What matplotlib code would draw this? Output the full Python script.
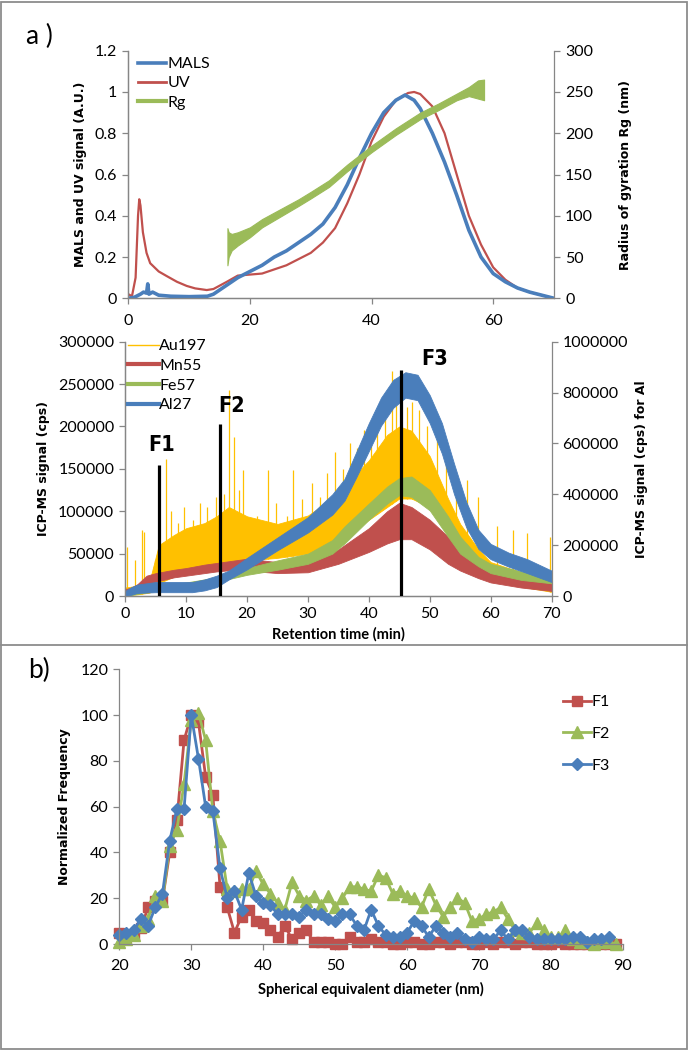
import numpy as np
import matplotlib
matplotlib.use("Agg")
import matplotlib.pyplot as plt
from matplotlib.lines import Line2D
from matplotlib.patches import Rectangle
from matplotlib.ticker import FuncFormatter

plt.rcParams["font.family"] = ["Lato", "DejaVu Sans"]

BLUE = "#4a7ebb"
RED = "#c0504d"
GREEN = "#9bbb59"
GOLD = "#ffc000"
GRAY = "#868686"

# ---- panel a, top: MALS / UV (left axis), Rg (right axis) ----
mals_t = [0, 1, 2, 2.5, 3, 3.2, 3.4, 4, 5, 7, 10, 13, 14, 15, 16, 17, 18, 20, 22, 24, 26, 28,
          30, 32, 34, 36, 38, 40, 42, 44, 45.5, 47, 48, 50, 52, 54, 56, 58, 60, 62, 64, 66, 68, 70]
mals_v = [0, 0.005, 0.02, 0.03, 0.025, 0.07, 0.02, 0.03, 0.015, 0.01, 0.008, 0.01, 0.02, 0.04,
          0.06, 0.08, 0.1, 0.13, 0.16, 0.2, 0.23, 0.27, 0.31, 0.36, 0.44, 0.55, 0.68, 0.8, 0.9,
          0.96, 0.985, 0.96, 0.92, 0.8, 0.66, 0.5, 0.33, 0.2, 0.12, 0.08, 0.05, 0.03, 0.015, 0.0]

uv_t = [0, 0.6, 1.2, 1.6, 1.8, 2.0, 2.4, 3, 3.6, 5, 6.3, 8, 9.6, 11, 12.9, 14, 16.2, 18, 20, 22,
        24, 26, 28, 30, 32, 34, 36, 38, 40, 42, 44, 46, 47, 48, 50, 52, 54, 56, 58, 60, 62, 64,
        66, 68, 70]
uv_v = [0.02, 0.01, 0.1, 0.4, 0.48, 0.45, 0.32, 0.22, 0.17, 0.13, 0.108, 0.08, 0.06, 0.048,
        0.04, 0.045, 0.08, 0.11, 0.115, 0.12, 0.14, 0.16, 0.19, 0.22, 0.27, 0.34, 0.46, 0.6,
        0.76, 0.88, 0.96, 0.995, 1.0, 0.99, 0.93, 0.8, 0.6, 0.4, 0.26, 0.15, 0.09, 0.05, 0.03,
        0.015, 0.0]

rg_t = [16.3, 16.5, 17, 18, 20, 22, 25, 28, 30, 33, 36, 40, 44, 48, 51, 54, 56, 57.5, 58.5]
rg_lo = [40, 50, 58, 64, 74, 86, 99, 112, 121, 135, 154, 177, 198, 217, 228, 240, 245, 242, 240]
rg_hi = [85, 80, 78, 80, 86, 96, 108, 120, 129, 143, 162, 185, 206, 225, 236, 248, 256, 264, 265]

# ---- panel a, bottom: ICP-MS signals (noise bands: low / high edge) ----
au_t = [0, 2, 4, 5.5, 8, 10, 13, 15, 17, 20, 25, 30, 33, 36, 40, 43, 45, 47, 50, 53, 55, 58, 60, 65, 70]
au_lo = [1000, 2000, 4000, 15000, 23000, 27000, 31000, 35000, 38000, 42000, 45000, 50000, 55000,
         70000, 90000, 105000, 115000, 115000, 105000, 75000, 50000, 30000, 18000, 11000, 5000]
au_hi = [10000, 12000, 18000, 60000, 72000, 80000, 86000, 94000, 105000, 94000, 85000, 95000,
         110000, 130000, 160000, 190000, 200000, 195000, 165000, 115000, 85000, 55000, 40000,
         28000, 20000]
spike_t = [0.2, 1.6, 2.7, 3.0, 4.9, 6.7, 7.5, 8.7, 9.6, 11.2, 12.3, 13.4, 14.9, 16.2, 17.1, 17.8,
           18.6, 19.3, 21.6, 23.5, 24.8, 26.5, 27.5, 29.0, 30.6, 32.0, 33.1, 34.5, 35.8, 36.9,
           38.0, 39.2, 40.4, 41.3, 42.7, 43.8, 44.4, 46.3, 47.1, 48.2, 49.6, 51.2, 52.6, 54.3,
           56.1, 58.0, 61.1, 63.6, 66.0, 69.8]
spike_v = [58000, 42000, 78000, 76000, 42000, 162000, 100000, 86000, 105000, 90000, 110000,
           105000, 117000, 120000, 243000, 188000, 125000, 149000, 94000, 149000, 110000, 94000,
           149000, 115000, 133000, 117000, 145000, 170000, 150000, 180000, 175000, 196000,
           190000, 215000, 235000, 266000, 235000, 223000, 229000, 219000, 200000, 192000,
           160000, 130000, 137000, 117000, 82000, 78000, 74000, 70000]

mn_t = [0, 1, 2, 3.5, 5, 8, 10, 13, 15, 18, 20, 25, 30, 35, 40, 43, 45, 47, 50, 53, 55, 58, 60, 65, 70]
mn_lo = [2000, 3000, 6000, 14000, 17000, 22000, 24000, 27000, 29000, 31000, 30000, 27000, 28000,
         38000, 52000, 62000, 67000, 67000, 55000, 38000, 30000, 21000, 16000, 10000, 6000]
mn_hi = [8000, 10000, 14000, 24000, 27000, 31000, 33000, 37000, 39000, 42000, 44000, 40000, 42000,
         55000, 80000, 100000, 110000, 105000, 90000, 70000, 55000, 38000, 30000, 20000, 15000]

fe_t = [0, 5, 10, 15, 17, 20, 25, 30, 34, 36, 40, 43, 45, 47, 50, 53, 55, 58, 60, 65, 70]
fe_lo = [0, 6000, 10000, 15000, 20000, 25000, 31000, 38000, 50000, 62000, 90000, 109000, 119000,
         117000, 101000, 70000, 50000, 35000, 27000, 19000, 15000]
fe_hi = [5000, 12000, 16000, 22000, 27000, 33000, 42000, 50000, 66000, 82000, 109000, 129000,
         139000, 141000, 125000, 94000, 70000, 46000, 38000, 29000, 23000]

al_t = [0, 1, 2, 5, 8, 11, 13, 15, 17, 20, 25, 30, 34, 36, 38, 40, 42, 44, 46, 48, 50, 52, 54,
        56, 58, 60, 63, 66, 70]
al_lo = [0, 5000, 12000, 15000, 15000, 15000, 22000, 35000, 65000, 105000, 180000, 250000, 320000,
         375000, 470000, 570000, 670000, 740000, 780000, 770000, 680000, 560000, 400000, 270000,
         185000, 145000, 115000, 90000, 55000]
al_hi = [20000, 35000, 45000, 55000, 55000, 55000, 65000, 80000, 100000, 150000, 230000, 310000,
         400000, 460000, 570000, 680000, 780000, 850000, 880000, 870000, 790000, 680000, 520000,
         370000, 260000, 205000, 170000, 145000, 100000]

frac_names = ["F1", "F2", "F3"]
frac_t = [5.5, 15.5, 45.2]
frac_top = [155000, 202500, 266500]
frac_lab_t = [6.0, 17.5, 50.8]
frac_lab_v = [178000, 224000, 280000]

# ---- panel b: size distributions ----
f1_d = list(range(20, 90))
f1_v = [5, 3, 4, 7, 16, 19, 19, 40, 54, 89, 100, 97, 73, 65, 25, 16, 5, 12, 15, 10, 9, 6, 3, 8, 2,
        5, 6, 1, 1, 1, 0, 0, 3, 1, 1, 2, 1, 1, 0, 0, 1, 1, 0, 0, 1, 1, 0, 1, 1, 0, 0, 1, 0, 1, 1,
        0, 1, 1, 0, 0, 0, 1, 0, 0, 0, 0, 0, 0, 0, 0]
f2_d = list(range(20, 90))
f2_v = [1, 2, 4, 8, 11, 21, 19, 43, 50, 70, 98, 101, 89, 58, 45, 24, 23, 24, 24, 32, 26, 22, 18,
        15, 27, 21, 19, 21, 17, 21, 16, 20, 25, 25, 24, 23, 30, 29, 22, 23, 21, 20, 16, 24, 17,
        12, 16, 20, 18, 10, 11, 13, 14, 16, 11, 6, 5, 5, 9, 6, 3, 3, 6, 2, 1, 1, 0, 1, 1, 0]
f3_d = list(range(20, 89))
f3_v = [4, 5, 6, 11, 8, 16, 22, 45, 59, 59, 100, 81, 60, 58, 33, 20, 23, 15, 31, 21, 18, 17, 13,
        13, 13, 12, 15, 13, 13, 11, 10, 13, 13, 8, 6, 15, 8, 4, 3, 3, 5, 10, 8, 3, 8, 5, 3, 5, 2,
        1, 3, 2, 2, 6, 2, 6, 6, 3, 2, 2, 2, 2, 2, 3, 3, 1, 2, 2, 3]

W, H = 689, 1050
fig = plt.figure(figsize=(W / 100, H / 100), dpi=100)


def box(l, t, r, b):
    return [l / W, 1 - b / H, (r - l) / W, (b - t) / H]


def style(ax):
    ax.spines["top"].set_visible(False)
    for s in ax.spines.values():
        s.set_color(GRAY)
        s.set_linewidth(0.9)
    ax.tick_params(direction="out", length=4, width=0.9, color=GRAY, labelsize=11.5, pad=4)


fmt = FuncFormatter(lambda v, p: "%g" % v)
intfmt = FuncFormatter(lambda v, p: "%d" % v)
ylab = dict(fontfamily="DejaVu Sans", fontweight="bold", fontsize=9)
xlab = dict(fontfamily="Lato", fontweight="bold", fontsize=10.5)

# top
ax1 = fig.add_axes(box(128.3, 50.7, 554, 298.3))
ax1r = ax1.twinx()
for a in (ax1, ax1r):
    style(a)
ax1.spines["right"].set_visible(False)
ax1.plot(uv_t, uv_v, color=RED, lw=1.6, zorder=2)
ax1.plot(mals_t, mals_v, color=BLUE, lw=2.6, zorder=3)
ax1r.fill_between(rg_t, rg_lo, rg_hi, color=GREEN, lw=0.8, ec=GREEN)
ax1.set_xlim(0, 70)
ax1.set_ylim(0, 1.2)
ax1.set_xticks([0, 20, 40, 60])
ax1.set_yticks(np.arange(0, 1.21, 0.2))
ax1.yaxis.set_major_formatter(fmt)
ax1r.set_ylim(0, 300)
ax1r.set_yticks(range(0, 301, 50))
ax1.tick_params(axis="x", pad=7)
ax1.set_ylabel("MALS and UV signal (A.U.)", **ylab)
ax1r.set_ylabel("Radius of gyration Rg (nm)", **ylab)
ax1.yaxis.set_label_coords(-0.113, 0.5)
ax1r.yaxis.set_label_coords(1.169, 0.5)
ax1.yaxis.label.set_va("center")
ax1r.yaxis.label.set_va("center")
h1 = [Line2D([], [], color=BLUE, lw=2.6), Line2D([], [], color=RED, lw=2), Line2D([], [], color=GREEN, lw=3)]
ax1r.legend(h1, ["MALS", "UV", "Rg"], loc="upper left", bbox_to_anchor=(137.7 / W, 1 - 57 / H),
            bbox_transform=fig.transFigure, frameon=False, fontsize=11.5, borderpad=0,
            handlelength=1.8, handletextpad=0.05, labelspacing=0.32, borderaxespad=0)

# middle
ax2 = fig.add_axes(box(125.3, 341.7, 551.5, 596))
ax2r = ax2.twinx()
for a in (ax2, ax2r):
    style(a)
ax2.spines["right"].set_visible(False)
ax2.fill_between(au_t, au_lo, au_hi, color=GOLD, lw=0.6, ec=GOLD, zorder=1)
ax2.vlines(spike_t, np.interp(spike_t, au_t, au_lo), spike_v, color=GOLD, lw=0.9, zorder=1)
ax2.fill_between(mn_t, mn_lo, mn_hi, color=RED, lw=0.6, ec=RED, zorder=2)
ax2.fill_between(fe_t, fe_lo, fe_hi, color=GREEN, lw=0.6, ec=GREEN, zorder=3)
ax2r.fill_between(al_t, al_lo, al_hi, color=BLUE, lw=0.6, ec=BLUE, zorder=1)
ax2r.vlines(frac_t, 0, frac_top, color="black", lw=2.3, transform=ax2.transData, zorder=5)
for name, tx, ty in zip(frac_names, frac_lab_t, frac_lab_v):
    ax2r.text(tx, ty, name, transform=ax2.transData, ha="center", va="center", fontsize=15.5,
              fontweight="bold", fontfamily="DejaVu Sans", fontstretch="condensed", zorder=6)
ax2.set_xlim(0, 70)
ax2.set_ylim(0, 300000)
ax2.set_xticks(range(0, 71, 10))
ax2.set_yticks(range(0, 300001, 50000))
ax2.yaxis.set_major_formatter(intfmt)
ax2r.set_ylim(0, 1000000)
ax2r.set_yticks(range(0, 1000001, 200000))
ax2r.yaxis.set_major_formatter(intfmt)
ax2.set_ylabel("ICP-MS signal (cps)", **ylab)
ax2r.set_ylabel("ICP-MS signal (cps) for Al", **ylab)
ax2.yaxis.set_label_coords(-0.191, 0.5)
ax2r.yaxis.set_label_coords(1.211, 0.5)
ax2.yaxis.label.set_va("center")
ax2r.yaxis.label.set_va("center")
ax2.set_xlabel("Retention time (min)", **xlab)
ax2.xaxis.set_label_coords(0.5, -0.149)
ax2.xaxis.label.set_va("center")
h2 = [Line2D([], [], color=GOLD, lw=1), Line2D([], [], color=RED, lw=3),
      Line2D([], [], color=GREEN, lw=3), Line2D([], [], color=BLUE, lw=3)]
ax2r.legend(h2, ["Au197", "Mn55", "Fe57", "Al27"], loc="upper left",
            bbox_to_anchor=(128.3 / W, 1 - 339 / H), bbox_transform=fig.transFigure,
            frameon=False, fontsize=11.5, borderpad=0, handlelength=1.9, handletextpad=0.05,
            labelspacing=0.35, borderaxespad=0)

# bottom
ax3 = fig.add_axes(box(119.3, 669.3, 623, 944))
style(ax3)
ax3.spines["right"].set_visible(False)
ax3.plot(f1_d, f1_v, color=RED, lw=2, marker="s", ms=7, clip_on=False, label="F1")
ax3.plot(f2_d, f2_v, color=GREEN, lw=2, marker="^", ms=8, clip_on=False, label="F2")
ax3.plot(f3_d, f3_v, color=BLUE, lw=2, marker="D", ms=6, clip_on=False, label="F3")
ax3.set_xlim(20, 90)
ax3.set_ylim(0, 120)
ax3.set_xticks(range(20, 91, 10))
ax3.set_yticks(range(0, 121, 20))
ax3.tick_params(axis="x", pad=7)
ax3.set_ylabel("Normalized Frequency", **ylab)
ax3.yaxis.set_label_coords(-0.108, 0.5)
ax3.yaxis.label.set_va("center")
ax3.set_xlabel("Spherical equivalent diameter (nm)", **xlab)
ax3.xaxis.set_label_coords(0.5, -0.167)
ax3.xaxis.label.set_va("center")
ax3.legend(loc="upper left", bbox_to_anchor=(563 / W, 1 - 695 / H), bbox_transform=fig.transFigure,
           frameon=False, fontsize=11.5, borderpad=0, handlelength=1.75, handletextpad=0.05,
           labelspacing=1.1, borderaxespad=0, numpoints=1)

# panel labels and frames
fig.text(39 / W, 1 - 36 / H, "a )", fontsize=19, ha="center", va="center")
fig.text(39 / W, 1 - 670 / H, "b)", fontsize=19, ha="center", va="center")
fig.add_artist(Rectangle((1 / W, 1.5 / H), 686 / W, 1047 / H, transform=fig.transFigure,
                         fill=False, ec="#8c8c8c", lw=1.3))
fig.add_artist(Line2D([1 / W, 687 / W], [1 - 645 / H, 1 - 645 / H], transform=fig.transFigure,
                      color="#8c8c8c", lw=1.3))

fig.savefig("out.png", dpi=100)
